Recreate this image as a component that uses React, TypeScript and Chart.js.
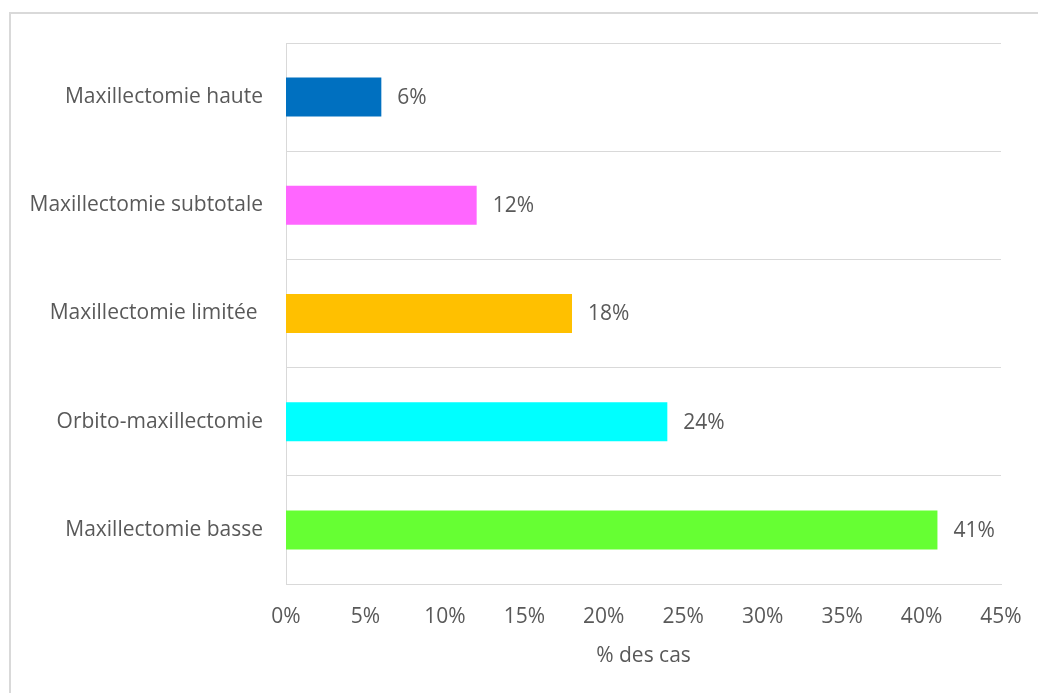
import React, { useEffect, useRef } from "react";
import { Chart, registerables } from "chart.js";

Chart.register(...registerables);

const categories = [
  "Maxillectomie haute",
  "Maxillectomie subtotale",
  "Maxillectomie limitée ",
  "Orbito-maxillectomie",
  "Maxillectomie basse",
];
const values = [6, 12, 18, 24, 41];
const barColors = ["#0070C0", "#FF66FF", "#FFC000", "#00FFFF", "#66FF33"];
const xTicks = [0, 5, 10, 15, 20, 25, 30, 35, 40, 45];
const xTitle = "% des cas";

const FONT = "'Open Sans', sans-serif";
const TEXT = "#595959";
const SIZE = 21;

const labelPlugin = {
  id: "barLabels",
  afterDatasetsDraw(chart: any) {
    const ctx = chart.ctx;
    const meta = chart.getDatasetMeta(0);
    ctx.save();
    ctx.font = `${SIZE}px ${FONT}`;
    ctx.fillStyle = TEXT;
    ctx.textAlign = "left";
    ctx.textBaseline = "middle";
    meta.data.forEach((bar: any, i: number) => {
      ctx.fillText(values[i] + "%", bar.x + 16, bar.y + 1);
    });
    ctx.restore();
  },
};

export default function App() {
  const ref = useRef<HTMLCanvasElement>(null);
  useEffect(() => {
    const chart = new Chart(ref.current!, {
      type: "bar",
      data: {
        labels: categories,
        datasets: [
          {
            data: values,
            backgroundColor: barColors,
            barPercentage: 0.36,
            categoryPercentage: 1,
          },
        ],
      },
      options: {
        indexAxis: "y",
        animation: false,
        responsive: false,
        maintainAspectRatio: false,
        layout: { padding: { left: 0, top: 43, right: 37, bottom: 24 } },
        plugins: { legend: { display: false }, tooltip: { enabled: false } },
        scales: {
          x: {
            min: 0,
            max: 45,
            afterFit: (s: any) => {
              s.height = 85;
              s.paddingLeft = 0;
              s.paddingRight = 0;
            },
            afterBuildTicks: (s: any) => {
              s.ticks = xTicks.map((v) => ({ value: v }));
            },
            grid: { display: false, drawTicks: false },
            border: { display: true, color: "#d9d9d9", width: 1 },
            ticks: {
              padding: 20,
              color: TEXT,
              font: { family: FONT, size: SIZE },
              callback: (v: any) => v + "%",
            },
            title: {
              display: true,
              text: xTitle,
              color: TEXT,
              font: { family: FONT, size: SIZE },
              padding: 0,
            },
          },
          y: {
            afterFit: (s: any) => {
              s.width = 286;
              s.paddingTop = 0;
              s.paddingBottom = 0;
            },
            grid: {
              offset: true,
              drawTicks: false,
              color: "#d9d9d9",
              lineWidth: 1,
            },
            border: { display: true, color: "#d9d9d9", width: 1 },
            ticks: {
              padding: 23,
              color: TEXT,
              font: { family: FONT, size: SIZE },
            },
          },
        },
      },
      plugins: [labelPlugin],
    });
    return () => chart.destroy();
  }, []);
  return (
    <div
      style={{
        position: "fixed",
        left: 0,
        top: 0,
        width: 1038,
        height: 693,
        background: "#fff",
        overflow: "hidden",
      }}
    >
      <div
        style={{
          position: "absolute",
          left: 9,
          top: 12,
          width: 1100,
          height: 800,
          border: "2px solid #d9d9d9",
          boxSizing: "border-box",
        }}
      />
      <canvas
        ref={ref}
        width={1038}
        height={693}
        style={{ position: "absolute", left: 0, top: 0 }}
      />
    </div>
  );
}
